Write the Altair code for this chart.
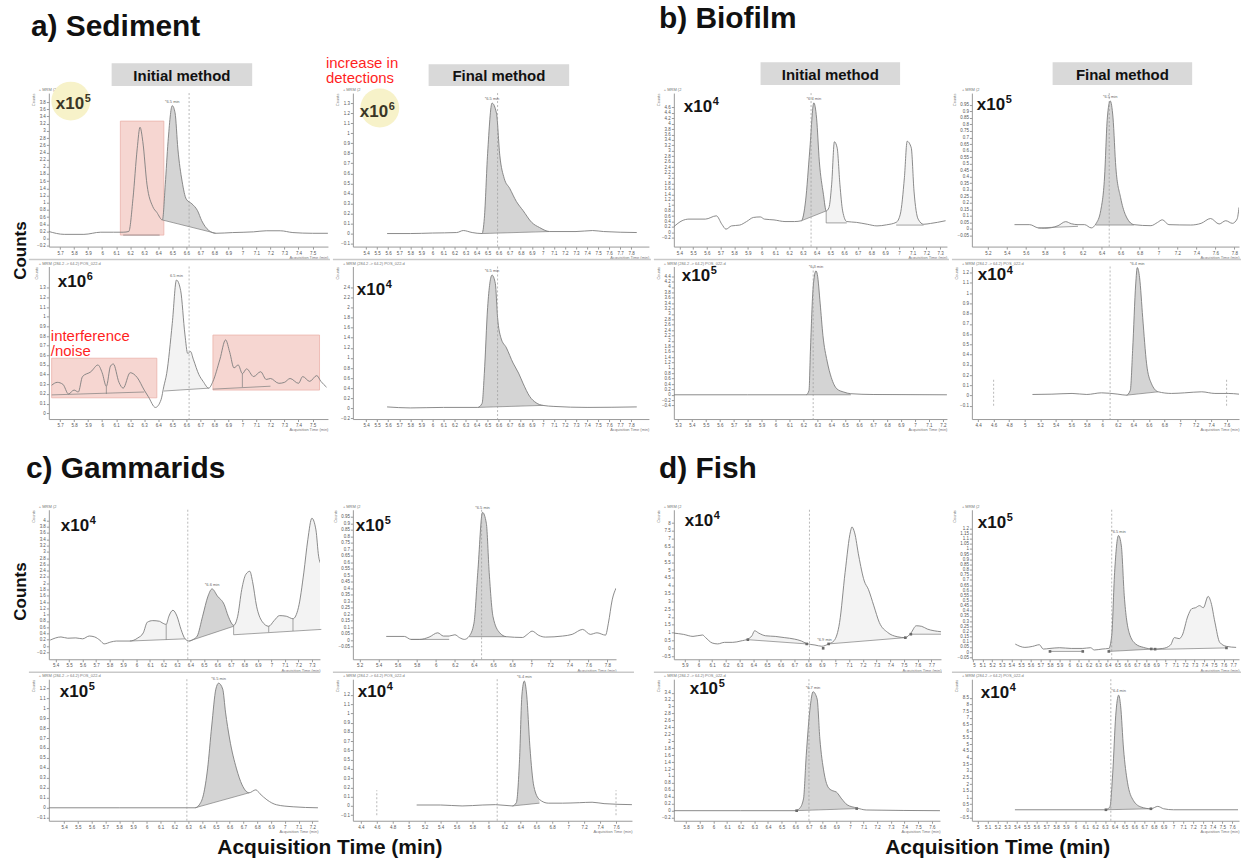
import altair as alt
import pandas as pd

FONT = "Liberation Sans"
TRACE = "#7d7d7d"
DARK = "#d4d4d4"
LIGHT = "#f3f3f3"
RED = "#ff1f1f"
BOX_FILL = "#f6d6d1"
BOX_EDGE = "#ebb3ab"
HEAD_FILL = "#d9d9d9"
HALO = "#f7f2c9"

# ---------------------------------------------------------------------------
# Chromatogram traces: (acquisition time [min], counts in the panel's x10^n unit)
# ---------------------------------------------------------------------------
# a) Sediment
SED_INI_1 = [(5.62, 0.2), (5.73, 0.12), (5.87, 0.12), (5.99, 0.18), (6.08, 0.18), (6.15, 0.18),
             (6.19, 0.2), (6.22, 1.12), (6.25, 2.5), (6.27, 3.1), (6.29, 2.7), (6.32, 1.5),
             (6.36, 0.9), (6.39, 0.73), (6.43, 0.52), (6.45, 1.5), (6.47, 2.7), (6.5, 3.7),
             (6.52, 3.5), (6.54, 2.5), (6.57, 1.6), (6.6, 1.1), (6.64, 0.97), (6.68, 0.78),
             (6.71, 0.5), (6.76, 0.23), (6.81, 0.15), (6.93, 0.17), (7.08, 0.19), (7.17, 0.22),
             (7.27, 0.22), (7.36, 0.17), (7.5, 0.15), (7.61, 0.15)]
SED_INI_2 = [(5.64, 0.29), (5.68, 0.32), (5.72, 0.3), (5.76, 0.2), (5.8, 0.24), (5.83, 0.22),
             (5.86, 0.38), (5.92, 0.43), (5.97, 0.5), (6.0, 0.42), (6.03, 0.28), (6.06, 0.49),
             (6.08, 0.51), (6.12, 0.32), (6.15, 0.26), (6.2, 0.42), (6.25, 0.37), (6.3, 0.24),
             (6.33, 0.17), (6.38, 0.06), (6.42, 0.14), (6.44, 0.28), (6.46, 0.41), (6.5, 0.93),
             (6.53, 1.38), (6.56, 1.27), (6.59, 0.82), (6.61, 0.62), (6.63, 0.64), (6.65, 0.56),
             (6.69, 0.4), (6.72, 0.33), (6.76, 0.26), (6.79, 0.33), (6.84, 0.56), (6.88, 0.76),
             (6.91, 0.63), (6.94, 0.47), (6.97, 0.5), (7.0, 0.41), (7.03, 0.46), (7.08, 0.38),
             (7.13, 0.43), (7.17, 0.35), (7.2, 0.36), (7.26, 0.31), (7.3, 0.32), (7.34, 0.36),
             (7.4, 0.31), (7.43, 0.38), (7.48, 0.33), (7.53, 0.39), (7.56, 0.33), (7.6, 0.27)]
SED_FIN_1 = [(5.59, 0.0), (5.8, 0.0), (6.0, 0.005), (6.22, 0.01), (6.28, 0.03), (6.36, 0.01),
             (6.45, 0.0), (6.47, 0.15), (6.5, 0.8), (6.54, 1.3), (6.58, 1.2), (6.61, 0.78),
             (6.65, 0.55), (6.7, 0.45), (6.76, 0.32), (6.82, 0.23), (6.9, 0.11), (6.97, 0.06),
             (7.06, 0.02), (7.3, 0.02), (7.45, 0.03), (7.55, 0.02), (7.85, 0.01)]
SED_FIN_2 = [(5.59, 0.03), (5.8, 0.01), (6.1, 0.02), (6.41, 0.02), (6.45, 0.1), (6.47, 0.69),
             (6.5, 2.0), (6.54, 2.64), (6.57, 2.47), (6.59, 1.8), (6.62, 1.4), (6.67, 1.2),
             (6.73, 0.9), (6.78, 0.7), (6.82, 0.5), (6.88, 0.24), (6.94, 0.11), (7.0, 0.06),
             (7.1, 0.04), (7.4, 0.02), (7.85, 0.03)]

# b) Biofilm
BIO_INI_1 = [(5.36, 0.21), (5.42, 0.43), (5.47, 0.49), (5.59, 0.49), (5.67, 0.61), (5.71, 0.3),
             (5.74, 0.12), (5.78, 0.24), (5.84, 0.27), (5.89, 0.4), (5.94, 0.55), (5.99, 0.57),
             (6.02, 0.49), (6.09, 0.46), (6.17, 0.4), (6.24, 0.4), (6.29, 0.43), (6.32, 1.16),
             (6.35, 2.99), (6.38, 4.76), (6.4, 4.2), (6.42, 2.62), (6.45, 1.4), (6.47, 0.79),
             (6.49, 0.91), (6.51, 1.77), (6.53, 3.33), (6.55, 3.11), (6.57, 1.77), (6.59, 0.79),
             (6.62, 0.4), (6.69, 0.37), (6.77, 0.3), (6.84, 0.24), (6.91, 0.28), (6.98, 0.37),
             (7.01, 0.67), (7.04, 2.01), (7.06, 3.35), (7.09, 3.11), (7.11, 1.52), (7.14, 0.49),
             (7.18, 0.3), (7.23, 0.33), (7.28, 0.37), (7.34, 0.43)]
BIO_INI_2 = [(5.27, 0.0), (5.8, 0.0), (6.22, 0.0), (6.24, 0.16), (6.25, 1.6), (6.27, 4.0),
             (6.29, 4.6), (6.3, 4.46), (6.32, 3.4), (6.34, 2.2), (6.37, 1.25), (6.4, 0.64),
             (6.44, 0.22), (6.49, 0.1), (6.54, 0.04), (6.7, 0.01), (7.23, 0.0)]
BIO_FIN_1 = [(5.48, 0.033), (5.64, 0.033), (5.73, 0.008), (5.8, 0.005), (5.94, 0.025), (6.02, 0.056),
             (6.08, 0.04), (6.15, 0.033), (6.22, 0.033), (6.29, 0.008), (6.34, 0.04), (6.39, 0.14),
             (6.43, 0.39), (6.46, 0.85), (6.49, 0.98), (6.52, 0.85), (6.55, 0.47), (6.6, 0.24),
             (6.65, 0.11), (6.74, 0.033), (6.92, 0.025), (6.99, 0.05), (7.04, 0.07), (7.11, 0.033),
             (7.34, 0.03), (7.45, 0.043), (7.55, 0.08), (7.64, 0.038), (7.71, 0.063), (7.78, 0.043),
             (7.83, 0.076), (7.85, 0.165)]
BIO_FIN_2 = [(5.1, 0.01), (5.35, 0.013), (5.61, 0.02), (5.8, 0.01), (5.99, 0.026), (6.2, 0.013),
             (6.31, 0.003), (6.36, 0.05), (6.39, 0.44), (6.43, 1.09), (6.45, 1.25), (6.48, 1.15),
             (6.52, 0.76), (6.57, 0.31), (6.63, 0.12), (6.72, 0.036), (6.89, 0.02), (7.06, 0.026),
             (7.28, 0.036), (7.45, 0.02), (7.62, 0.02), (7.76, 0.013)]

# c) Gammarids
GAM_INI_1 = [(5.36, 0.19), (5.44, 0.29), (5.49, 0.25), (5.55, 0.26), (5.6, 0.23), (5.65, 0.32),
             (5.69, 0.29), (5.73, 0.18), (5.76, 0.07), (5.81, 0.13), (5.85, 0.16), (5.95, 0.16),
             (6.01, 0.26), (6.05, 0.42), (6.08, 0.76), (6.12, 0.81), (6.17, 0.79), (6.19, 0.74),
             (6.22, 0.69), (6.24, 0.95), (6.27, 1.14), (6.3, 0.95), (6.33, 0.53), (6.36, 0.23),
             (6.39, 0.16), (6.42, 0.21), (6.45, 0.32), (6.49, 0.95), (6.53, 1.59), (6.56, 1.82),
             (6.6, 1.59), (6.65, 1.32), (6.68, 0.95), (6.72, 0.66), (6.75, 0.95), (6.78, 1.8),
             (6.81, 2.28), (6.84, 2.38), (6.86, 2.06), (6.89, 1.27), (6.93, 0.79), (6.98, 0.63),
             (7.02, 0.81), (7.06, 0.97), (7.11, 0.95), (7.16, 0.87), (7.2, 1.22), (7.24, 2.33),
             (7.27, 3.39), (7.3, 4.07), (7.33, 3.7), (7.35, 2.86), (7.37, 2.59)]
GAM_INI_2 = [(5.29, 0.0), (5.8, 0.0), (6.35, 0.0), (6.38, 0.03), (6.41, 0.13), (6.44, 0.39),
             (6.47, 0.82), (6.5, 1.19), (6.52, 1.25), (6.55, 1.19), (6.57, 0.96), (6.6, 0.69),
             (6.65, 0.39), (6.69, 0.23), (6.74, 0.15), (6.79, 0.18), (6.82, 0.14), (6.87, 0.08),
             (6.94, 0.03), (7.06, 0.01), (7.24, 0.0)]
GAM_FIN_1 = [(5.48, 0.028), (5.67, 0.028), (5.74, 0.005), (5.83, 0.005), (5.93, 0.023), (6.02, 0.056),
             (6.08, 0.031), (6.14, 0.031), (6.2, 0.041), (6.25, 0.018), (6.3, 0.005), (6.35, 0.03),
             (6.4, 0.13), (6.44, 0.52), (6.49, 0.985), (6.53, 0.9), (6.56, 0.52), (6.6, 0.18),
             (6.67, 0.056), (6.74, 0.026), (6.91, 0.02), (6.96, 0.044), (7.01, 0.069), (7.08, 0.036),
             (7.15, 0.023), (7.33, 0.031), (7.43, 0.044), (7.54, 0.082), (7.62, 0.044), (7.69, 0.056),
             (7.78, 0.038), (7.81, 0.13), (7.85, 0.31), (7.89, 0.4)]
GAM_FIN_2 = [(5.1, 0.01), (5.4, 0.01), (5.67, 0.0), (5.93, 0.01), (6.09, 0.014), (6.3, 0.0),
             (6.35, 0.035), (6.39, 0.5), (6.42, 1.2), (6.45, 1.35), (6.48, 1.2), (6.52, 0.64),
             (6.57, 0.21), (6.64, 0.07), (6.75, 0.03), (6.93, 0.03), (7.14, 0.035), (7.3, 0.04),
             (7.45, 0.025), (7.8, 0.014)]

# d) Fish
FISH_INI_1 = [(5.82, 0.97), (5.89, 0.89), (5.96, 0.76), (6.03, 0.85), (6.05, 0.7), (6.1, 0.34),
              (6.14, 0.28), (6.19, 0.38), (6.25, 0.38), (6.31, 0.47), (6.36, 0.59), (6.39, 0.8),
              (6.41, 1.12), (6.44, 0.97), (6.49, 0.8), (6.56, 0.76), (6.63, 0.68), (6.7, 0.59),
              (6.75, 0.47), (6.79, 0.3), (6.85, 0.21), (6.9, 0.13), (6.95, 0.28), (6.99, 0.49),
              (7.03, 1.65), (7.07, 4.83), (7.11, 7.48), (7.12, 7.75), (7.14, 7.37), (7.17, 5.89),
              (7.21, 4.3), (7.24, 3.77), (7.28, 2.71), (7.32, 1.65), (7.38, 1.02), (7.45, 0.74),
              (7.51, 0.68), (7.55, 0.97), (7.59, 1.44), (7.63, 1.4), (7.67, 1.23), (7.72, 1.12),
              (7.77, 1.06)]
FISH_INI_2 = [(5.71, 0.0), (6.2, 0.0), (6.6, 0.0), (6.63, 0.06), (6.66, 0.34), (6.68, 1.59),
              (6.71, 3.02), (6.73, 3.43), (6.76, 3.22), (6.78, 2.07), (6.81, 1.11), (6.84, 0.68),
              (6.87, 0.58), (6.9, 0.54), (6.94, 0.34), (6.98, 0.17), (7.05, 0.08), (7.12, 0.02),
              (7.66, 0.0)]
FISH_FIN_1 = [(5.44, 0.077), (5.54, 0.045), (5.62, 0.055), (5.69, 0.071), (5.73, 0.029), (5.8, 0.035),
              (5.9, 0.042), (6.02, 0.035), (6.14, 0.035), (6.22, 0.042), (6.26, 0.02), (6.34, 0.029),
              (6.41, 0.035), (6.44, 0.16), (6.47, 0.77), (6.51, 1.13), (6.54, 1.03), (6.57, 0.55),
              (6.62, 0.19), (6.69, 0.077), (6.77, 0.045), (6.87, 0.029), (6.97, 0.035), (7.05, 0.068),
              (7.09, 0.14), (7.14, 0.13), (7.17, 0.16), (7.23, 0.35), (7.27, 0.42), (7.31, 0.43),
              (7.35, 0.45), (7.39, 0.43), (7.44, 0.54), (7.47, 0.48), (7.51, 0.29), (7.56, 0.094),
              (7.63, 0.055), (7.73, 0.045)]
FISH_FIN_2 = [(5.38, 0.075), (5.8, 0.075), (6.3, 0.075), (6.35, 0.28), (6.38, 2.9), (6.41, 7.15),
              (6.44, 8.7), (6.46, 7.9), (6.49, 4.65), (6.53, 2.15), (6.59, 0.78), (6.67, 0.28),
              (6.77, 0.15), (6.84, 0.33), (6.9, 0.15), (7.0, 0.075), (7.66, 0.075)]

# Integrated regions: (start, end, baseline at start, baseline at end, shade)
SED_INI_1_AREAS = [(6.43, 6.81, 0.52, 0.15, "dark")]
SED_INI_2_AREAS = [(6.44, 6.76, 0.23, 0.26, "light")]
SED_FIN_1_AREAS = [(6.45, 7.06, 0.0, 0.02, "dark")]
SED_FIN_2_AREAS = [(6.41, 7.0, 0.02, 0.06, "dark")]
BIO_INI_1_AREAS = [(6.29, 6.47, 0.43, 0.79, "dark"), (6.47, 6.62, 0.35, 0.35, "light"),
                   (6.98, 7.18, 0.27, 0.27, "light")]
BIO_INI_2_AREAS = [(6.22, 6.54, 0.0, 0.0, "dark")]
BIO_FIN_1_AREAS = [(5.73, 6.15, 0.008, 0.02, "light"), (6.34, 6.74, 0.03, 0.03, "dark")]
BIO_FIN_2_AREAS = [(6.31, 6.72, 0.003, 0.036, "dark")]
GAM_INI_1_AREAS = [(5.95, 6.36, 0.16, 0.23, "light"), (6.39, 6.72, 0.16, 0.63, "dark"),
                   (6.72, 7.37, 0.36, 0.53, "light")]
GAM_INI_2_AREAS = [(6.35, 6.74, 0.0, 0.15, "dark")]
GAM_FIN_1_AREAS = [(5.74, 6.14, 0.005, 0.005, "light"), (6.35, 6.74, 0.026, 0.026, "dark")]
GAM_FIN_2_AREAS = [(6.3, 6.64, 0.0, 0.03, "dark")]
FISH_INI_1_AREAS = [(6.36, 6.79, 0.55, 0.28, "light"), (6.95, 7.51, 0.28, 0.68, "light"),
                    (7.55, 7.77, 0.9, 0.9, "light")]
FISH_INI_2_AREAS = [(6.6, 7.05, 0.0, 0.06, "dark")]
FISH_FIN_1_AREAS = [(5.8, 6.14, 0.006, 0.006, "light"), (6.41, 6.87, 0.006, 0.029, "dark"),
                    (6.87, 7.63, 0.025, 0.04, "light")]
FISH_FIN_2_AREAS = [(6.3, 6.77, 0.075, 0.15, "dark")]

# Extra baseline segments (t0, v0, t1, v1) and split drops (t, v_low, v_high)
SED_INI_1_SEGS = [(6.15, 0.1, 6.41, 0.1)]
SED_INI_2_SEGS = [(5.64, 0.19, 6.3, 0.22), (6.79, 0.25, 7.2, 0.28)]
SED_INI_2_DROPS = [(6.03, 0.2, 0.28), (7.0, 0.27, 0.41)]
BIO_INI_1_DROPS = [(6.47, 0.35, 0.79)]
GAM_INI_1_DROPS = [(6.22, 0.2, 0.69), (6.72, 0.36, 0.66), (6.98, 0.44, 0.63), (7.16, 0.48, 0.87)]

# Interference / noise windows (t0, t1, v0, v1)
SED_INI_1_BOXES = [(6.13, 6.44, 0.1, 3.27)]
SED_INI_2_BOXES = [(5.64, 6.39, 0.16, 0.57), (6.79, 7.55, 0.24, 0.81)]

# Integration markers (t, v)
FISH_INI_1_MARKS = [(6.36, 0.55), (6.79, 0.28), (6.95, 0.28), (7.51, 0.68), (7.55, 0.9), (6.91, 0.0)]
FISH_FIN_1_MARKS = [(5.8, 0.006), (6.14, 0.006), (6.41, 0.006), (6.85, 0.03), (6.89, 0.028), (7.63, 0.04)]
FISH_INI_2_MARKS = [(6.61, 0.0), (7.05, 0.06)]
FISH_FIN_2_MARKS = [(6.31, 0.075), (6.77, 0.15)]

# Expected retention-time markers (min)
RT_LINES = {"a1": 6.62, "a2": 6.62, "a3": 6.59, "a4": 6.59, "b1": 6.36, "b2": 6.27, "b3": 6.48,
            "b4": 6.1, "c1": 6.38, "c2": 6.48, "c3": 6.29, "c4": 6.11, "d1": 6.81, "d2": 6.44,
            "d3": 6.7, "d4": 6.36}
WINDOW_STUBS = [(4.6, -0.1, 0.17), (7.6, -0.1, 0.17)]

ONE = pd.DataFrame({"k": [0]})


def ticks(lo, hi, step):
    n = int(round((hi - lo) / step))
    return [round(lo + i * step, 3) for i in range(n + 1)]


def txt(s, x, y, size, color="#111111", weight="bold", align="left", baseline="alphabetic", angle=0):
    return alt.Chart(ONE).mark_text(
        text=s, fontSize=size, fontWeight=weight, color=color, align=align,
        baseline=baseline, angle=angle, font=FONT,
    ).encode(x=alt.value(x), y=alt.value(y))


def mult(exp, x, y, color="#141414"):
    return [txt("x10", x, y, 17, color=color), txt(exp, x + 29, y - 7, 11, color=color)]


def header(s, x0, x1, y0, y1):
    box = alt.Chart(ONE).mark_rect(color=HEAD_FILL).encode(
        x=alt.value(x0), x2=alt.value(x1), y=alt.value(y0), y2=alt.value(y1))
    return [box, txt(s, (x0 + x1) / 2, (y0 + y1) / 2 + 1, 15, align="center", baseline="middle")]


def halo(cx, cy):
    return alt.Chart(ONE).mark_circle(color=HALO, opacity=1, size=1520).encode(
        x=alt.value(cx), y=alt.value(cy))


def red(s, x, y):
    return txt(s, x, y, 15, color=RED, weight="normal")


def panel(trace, xdom, xt, ydom, yt, width, height, rt, areas=(), segs=(), drops=(),
          boxes=(), stubs=(), marks=(), peak=None, mrm="+ MRM (2", divider=False, deco=()):
    xsc = alt.Scale(domain=list(xdom), nice=False, zero=False)
    ysc = alt.Scale(domain=list(ydom), nice=False, zero=False)
    common = dict(format="~g", grid=False, labelFontSize=4.5, labelColor="#555555",
                  tickColor="#9a9a9a", domainColor="#9a9a9a", tickSize=2.5, labelPadding=1,
                  labelOverlap=False, titleFontSize=4, titleColor="#777777",
                  titleFontWeight="normal", titleAnchor="end", titlePadding=1, labelFont=FONT,
                  titleFont=FONT)
    xax = alt.Axis(values=ticks(*xt), title="Acquisition Time (min)", **common)
    yax = alt.Axis(values=ticks(*yt), title="Counts", **common)

    def X(f):
        return alt.X(f, type="quantitative", scale=xsc, axis=xax)

    def Y(f):
        return alt.Y(f, type="quantitative", scale=ysc, axis=yax)

    df = pd.DataFrame(trace, columns=["t", "v"])
    layers = []
    if divider:
        layers.append(alt.Chart(ONE).mark_rule(color="#c9c9c9", strokeWidth=1.5).encode(
            x=alt.value(-20), x2=alt.value(width + 2), y=alt.value(-7)))
    if boxes:
        bdf = pd.DataFrame(boxes, columns=["t0", "t1", "v0", "v1"])
        layers.append(alt.Chart(bdf).mark_rect(fill=BOX_FILL, stroke=BOX_EDGE, strokeWidth=0.8).encode(
            x=X("t0"), x2=alt.X2("t1"), y=Y("v0"), y2=alt.Y2("v1")))
    for t0, t1, b0, b1, shade in areas:
        slope = (b1 - b0) / (t1 - t0)
        layers.append(
            alt.Chart(df)
            .transform_filter(alt.FieldRangePredicate(field="t", range=[t0, t1]))
            .transform_calculate(base=f"{b0} + (datum.t - {t0}) * {slope}")
            .mark_area(interpolate="monotone", color=DARK if shade == "dark" else LIGHT, clip=True)
            .encode(x=X("t"), y=Y("v"), y2=alt.Y2("base"))
        )
    lines = [(a[0], a[2], a[1], a[3]) for a in areas] + list(segs)
    if lines:
        sdf = pd.DataFrame(lines, columns=["t0", "v0", "t1", "v1"])
        layers.append(alt.Chart(sdf).mark_rule(color=TRACE, strokeWidth=0.7).encode(
            x=X("t0"), y=Y("v0"), x2=alt.X2("t1"), y2=alt.Y2("v1")))
    if drops:
        ddf = pd.DataFrame(drops, columns=["t", "v0", "v1"])
        layers.append(alt.Chart(ddf).mark_rule(color=TRACE, strokeWidth=0.7).encode(
            x=X("t"), y=Y("v0"), y2=alt.Y2("v1")))
    layers.append(alt.Chart(df).mark_line(interpolate="monotone", color=TRACE, strokeWidth=0.9,
                                          clip=True).encode(x=X("t"), y=Y("v")))
    layers.append(alt.Chart(pd.DataFrame({"t": [rt]})).mark_rule(
        color="#9a9a9a", strokeWidth=0.7, strokeDash=[2, 2]).encode(x=X("t")))
    if stubs:
        tdf = pd.DataFrame(stubs, columns=["t", "v0", "v1"])
        layers.append(alt.Chart(tdf).mark_rule(color="#9a9a9a", strokeWidth=0.7, strokeDash=[2, 2]).encode(
            x=X("t"), y=Y("v0"), y2=alt.Y2("v1")))
    if marks:
        mdf = pd.DataFrame(marks, columns=["t", "v"])
        layers.append(alt.Chart(mdf).mark_point(shape="square", filled=True, size=7, color="#6a6a6a",
                                                opacity=1).encode(x=X("t"), y=Y("v")))
    if peak:
        pdf = pd.DataFrame([peak], columns=["t", "v", "s"])
        layers.append(alt.Chart(pdf).mark_text(fontSize=4, color="#666666", dy=-4, font=FONT).encode(
            x=X("t"), y=Y("v"), text="s:N"))
    layers.append(txt(mrm, -10, -2, 4, color="#777777", weight="normal"))
    layers.extend(deco)
    return alt.layer(*layers).properties(width=width, height=height)


def spacer(width, height, deco=()):
    base = alt.Chart(ONE).mark_text(text=" ").encode(x=alt.value(0), y=alt.value(0))
    return alt.layer(base, *deco).properties(width=width, height=height)


MRM_B = "+ MRM (284.2 -> 64.2) POS_022.d"
H1, H2, HS, H3, H4 = 154, 153, 51, 150, 142
TITLE = 30
AXIS_TITLE = 21

a1 = panel(SED_INI_1, (5.62, 7.61), (5.7, 7.5, 0.1), (-0.22, 4.05), (-0.2, 3.8, 0.2), 280, H1,
           RT_LINES["a1"], areas=SED_INI_1_AREAS, segs=SED_INI_1_SEGS, boxes=SED_INI_1_BOXES,
           peak=(6.5, 3.7, "*6.5 min"),
           deco=[*header("Initial method", 63, 204, -30, -7), txt("a) Sediment", -18, -57, TITLE),
                 txt("Counts", -28, 158, 17, angle=270, align="center", baseline="middle"),
                 halo(22, 8), *mult("5", 7, 16, "#3a3626")])
a2 = panel(SED_INI_2, (5.62, 7.61), (5.7, 7.5, 0.1), (-0.06, 1.52), (0, 1.3, 0.1), 280, H2,
           RT_LINES["a2"], areas=SED_INI_2_AREAS, segs=SED_INI_2_SEGS, drops=SED_INI_2_DROPS,
           boxes=SED_INI_2_BOXES, peak=(6.53, 1.38, "6.5 min"), mrm=MRM_B, divider=True,
           deco=[*mult("6", 9, 21), red("interference", 2, 75), red("/noise", 2, 90)])
a3 = panel(SED_FIN_1, (5.28, 7.96), (5.4, 7.8, 0.1), (-0.13, 1.4), (-0.1, 1.3, 0.1), 297, H1,
           RT_LINES["a3"], areas=SED_FIN_1_AREAS, peak=(6.54, 1.3, "*6.5 min"),
           deco=[*header("Final method", 76, 217, -29, -7), red("increase in", -27, -25),
                 red("detections", -27, -10), halo(27, 15), *mult("6", 7, 24, "#3a3626")])
a4 = panel(SED_FIN_2, (5.28, 7.96), (5.4, 7.8, 0.1), (-0.21, 2.81), (-0.2, 2.4, 0.2), 297, H2,
           RT_LINES["a4"], areas=SED_FIN_2_AREAS, peak=(6.54, 2.64, "*6.5 min"), mrm=MRM_B,
           divider=True, deco=mult("4", 4, 29))
b1 = panel(BIO_INI_1, (5.36, 7.35), (5.4, 7.3, 0.1), (-0.52, 5.12), (-0.2, 4.6, 0.2), 274, H1,
           RT_LINES["b1"], areas=BIO_INI_1_AREAS, drops=BIO_INI_1_DROPS,
           peak=(6.38, 4.76, "*6.4 min"),
           deco=[txt("b) Biofilm", -15, -65, TITLE), *header("Initial method", 87, 227, -31, -8),
                 *mult("4", 10, 19)])
b2 = panel(BIO_INI_2, (5.27, 7.23), (5.3, 7.2, 0.1), (-0.9, 4.76), (-0.4, 4.4, 0.2), 274, H2,
           RT_LINES["b2"], areas=BIO_INI_2_AREAS, peak=(6.29, 4.6, "*6.3 min"), mrm=MRM_B,
           divider=True, deco=mult("5", 8, 15))
b3 = panel(BIO_FIN_1, (5.03, 7.85), (5.2, 7.8, 0.2), (-0.135, 1.04), (-0.05, 0.95, 0.05), 268, H1,
           RT_LINES["b3"], areas=BIO_FIN_1_AREAS, peak=(6.49, 0.98, "*6.5 min"),
           deco=[*header("Final method", 81, 221, -31, -8), *mult("5", 5, 17)])
b4 = panel(BIO_FIN_2, (4.32, 7.76), (4.4, 7.6, 0.2), (-0.23, 1.26), (-0.1, 1.2, 0.1), 268, H2,
           RT_LINES["b4"], areas=BIO_FIN_2_AREAS, stubs=WINDOW_STUBS, peak=(6.45, 1.25, "*6.4 min"),
           mrm=MRM_B, divider=True, deco=mult("4", 6, 14))

s0 = spacer(280, HS, [txt("c) Gammarids", -23, 39, TITLE)])
s1 = spacer(297, HS)
s2 = spacer(274, HS, [txt("d) Fish", -15, 39, TITLE)])
s3 = spacer(268, HS)

c1 = panel(GAM_INI_1, (5.35, 7.36), (5.4, 7.3, 0.1), (-0.42, 4.34), (-0.2, 4, 0.2), 272, H3,
           RT_LINES["c1"], areas=GAM_INI_1_AREAS, drops=GAM_INI_1_DROPS,
           peak=(6.56, 1.82, "*6.6 min"),
           deco=[txt("Counts", -28, 82, 17, angle=270, align="center", baseline="middle"),
                 *mult("4", 12, 21)])
c2 = panel(GAM_FIN_1, (5.13, 7.89), (5.2, 7.8, 0.2), (-0.148, 1.005), (-0.05, 0.95, 0.05), 264, H3,
           RT_LINES["c2"], areas=GAM_FIN_1_AREAS, peak=(6.49, 0.985, "*6.5 min"),
           deco=mult("5", 3, 21))
d1 = panel(FISH_INI_1, (5.82, 7.77), (5.9, 7.7, 0.1), (-0.7, 8.85), (-0.5, 8, 0.5), 268, H3,
           RT_LINES["d1"], areas=FISH_INI_1_AREAS, marks=FISH_INI_1_MARKS,
           peak=(6.92, 0.3, "*6.9 min"), deco=mult("4", 11, 16))
d2 = panel(FISH_FIN_1, (4.99, 7.76), (5.0, 7.7, 0.1), (-0.07, 1.38), (-0.05, 1.2, 0.05), 268, H3,
           RT_LINES["d2"], areas=FISH_FIN_1_AREAS, marks=FISH_FIN_1_MARKS,
           peak=(6.51, 1.13, "*6.5 min"), deco=mult("5", 6, 18))
c3 = panel(GAM_INI_2, (5.29, 7.24), (5.4, 7.2, 0.1), (-0.13, 1.29), (-0.1, 1.2, 0.1), 270, H4,
           RT_LINES["c3"], areas=GAM_INI_2_AREAS, peak=(6.52, 1.25, "*6.5 min"), mrm=MRM_B,
           divider=True,
           deco=[*mult("5", 11, 18),
                 txt("Acquisition Time (min)", 282, 175, AXIS_TITLE, align="center")])
c4 = panel(GAM_FIN_2, (4.3, 7.8), (4.4, 7.6, 0.2), (-0.16, 1.37), (-0.1, 1.2, 0.1), 280, H4,
           RT_LINES["c4"], areas=GAM_FIN_2_AREAS, stubs=WINDOW_STUBS, peak=(6.45, 1.35, "*6.4 min"),
           mrm=MRM_B, divider=True, deco=mult("4", 5, 18))
d3 = panel(FISH_INI_2, (5.71, 7.66), (5.8, 7.6, 0.1), (-0.29, 3.79), (-0.2, 3.4, 0.2), 267, H4,
           RT_LINES["d3"], areas=FISH_INI_2_AREAS, marks=FISH_INI_2_MARKS,
           peak=(6.73, 3.43, "*6.7 min"), mrm=MRM_B, divider=True,
           deco=[*mult("5", 16, 15),
                 txt("Acquisition Time (min)", 325, 175, AXIS_TITLE, align="center")])
d4 = panel(FISH_FIN_2, (4.94, 7.67), (5.0, 7.6, 0.1), (-0.75, 9.9), (-0.5, 8.5, 0.5), 268, H4,
           RT_LINES["d4"], areas=FISH_FIN_2_AREAS, marks=FISH_FIN_2_MARKS,
           peak=(6.44, 8.7, "*6.4 min"), mrm=MRM_B, divider=True, deco=mult("4", 9, 19))

chart = alt.concat(
    a1, a3, b1, b3,
    a2, a4, b2, b4,
    s0, s1, s2, s3,
    c1, c2, d1, d2,
    c3, c4, d3, d4,
    columns=4, spacing={"row": 20, "column": 25}, bounds="flush", align="each",
).properties(
    padding={"left": 12, "top": 3, "right": 0, "bottom": 0},
    background="white",
).configure(font=FONT).configure_view(stroke=None)

chart.save("out.html", embed_options={"renderer": "svg", "actions": False})
